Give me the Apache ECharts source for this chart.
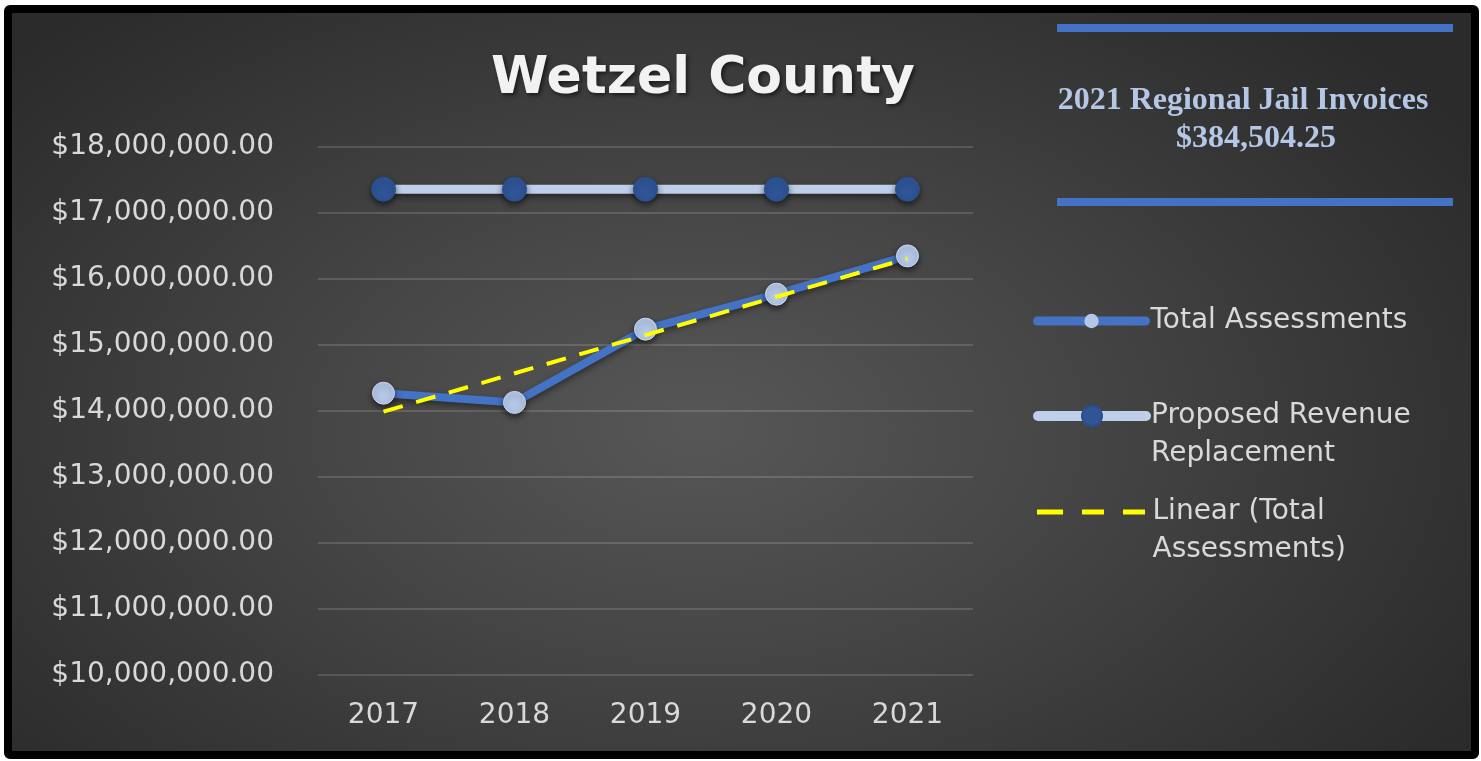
<!DOCTYPE html>
<html>
<head>
<meta charset="utf-8">
<script src="https://cdn.jsdelivr.net/npm/echarts@6/dist/echarts.min.js"></script>
<style>
  html, body { margin: 0; padding: 0; background: #ffffff; }
  #frame {
    position: absolute; left: 4px; top: 5px; width: 1475px; height: 754px;
    box-sizing: border-box; border: 8px solid #000; border-radius: 6px;
    background: radial-gradient(ellipse 62% 75% at 47% 56%, #575757 0%, #444444 45%, #2b2b2b 100%);
  }
  #chart { position: absolute; left: 0; top: 0; width: 1481px; height: 761px; }
</style>
</head>
<body>
<div id="frame"></div>
<div id="chart"></div>
<script>
// ---- data ----
const years = ['2017', '2018', '2019', '2020', '2021'];
const totalAssessments = [14270000, 14130000, 15240000, 15770000, 16350000];
const proposedRevenue = [17360000, 17360000, 17360000, 17360000, 17360000];
// linear trend line of Total Assessments: endpoints
const trendLine = [13990000, null, null, null, 16310000];
const yTicks = { min: 10000000, max: 18000000, step: 1000000 };
const boxLines = ['2021 Regional Jail Invoices', '$384,504.25'];

const labelColor = '#d9d9d9';
const font = 'DejaVu Sans';

const chart = echarts.init(document.getElementById('chart'), null, { renderer: 'canvas' });

const legendText = { color: labelColor, fontFamily: font, fontSize: 28, lineHeight: 38 };

chart.setOption({
  backgroundColor: 'transparent',
  animation: false,
  title: {
    text: 'Wetzel County',
    left: 698, top: 48, textAlign: 'center',
    textStyle: {
      color: '#f2f2f2', fontFamily: font, fontWeight: 'bold', fontSize: 52,
      textShadowColor: 'rgba(0,0,0,0.6)', textShadowBlur: 4, textShadowOffsetX: 2, textShadowOffsetY: 2
    }
  },
  legend: [
    {
      selectedMode: false, orient: 'vertical', left: 1033, top: 302, padding: 0,
      itemWidth: 108, itemHeight: 18,
      lineStyle: { width: 9, cap: 'round', shadowBlur: 0 },
      itemStyle: { shadowBlur: 0, borderWidth: 0 },
      textStyle: legendText,
      data: [{ name: 'Total Assessments' }]
    },
    {
      selectedMode: false, orient: 'vertical', left: 1033, top: 359, padding: 0,
      itemWidth: 108, itemHeight: 25,
      lineStyle: { width: 10, cap: 'round', shadowBlur: 0 },
      itemStyle: { shadowBlur: 0 },
      textStyle: legendText,
      formatter: () => '\nProposed Revenue\nReplacement',
      data: [{ name: 'Proposed Revenue Replacement' }]
    },
    {
      selectedMode: false, orient: 'vertical', left: 1037, top: 455, padding: 0,
      itemWidth: 113, itemHeight: 5,
      textStyle: legendText,
      formatter: () => '\nLinear (Total\nAssessments)',
      data: [{
        name: 'Linear (Total Assessments)',
        icon: 'path://M0,0h26v5h-26z M45,0h22v5h-22z M86,0h22v5h-22z',
        itemStyle: { color: '#ffff00' }
      }]
    }
  ],
  grid: { left: 318, right: 508, top: 147, bottom: 86, containLabel: false },
  xAxis: {
    type: 'category',
    data: years,
    boundaryGap: true,
    axisLine: { show: false },
    axisTick: { show: false },
    axisLabel: { color: labelColor, fontFamily: font, fontSize: 28, margin: 27 }
  },
  yAxis: {
    type: 'value',
    min: yTicks.min, max: yTicks.max, interval: yTicks.step,
    axisLine: { show: false },
    axisTick: { show: false },
    splitLine: { lineStyle: { color: 'rgba(255,255,255,0.14)', width: 2 } },
    axisLabel: {
      color: labelColor, fontFamily: font, fontSize: 28, margin: 44,
      formatter: v => '$' + v.toLocaleString('en-US', { minimumFractionDigits: 2, maximumFractionDigits: 2 })
    }
  },
  series: [
    {
      name: 'Total Assessments',
      type: 'line',
      data: totalAssessments,
      symbol: 'circle', symbolSize: 22,
      lineStyle: { color: '#4472c4', width: 8, shadowColor: 'rgba(0,0,0,0.45)', shadowBlur: 6, shadowOffsetY: 3 },
      itemStyle: { color: '#b4c7e7', borderColor: '#c9d6ee', borderWidth: 1, shadowColor: 'rgba(0,0,0,0.55)', shadowBlur: 6, shadowOffsetY: 3 },
      z: 3
    },
    {
      name: 'Proposed Revenue Replacement',
      type: 'line',
      data: proposedRevenue,
      symbol: 'circle', symbolSize: 24,
      lineStyle: { color: '#bfcfea', width: 9, shadowColor: 'rgba(0,0,0,0.45)', shadowBlur: 6, shadowOffsetY: 3 },
      itemStyle: { color: '#2f5597', borderColor: '#2a4f8f', borderWidth: 1, shadowColor: 'rgba(0,0,0,0.55)', shadowBlur: 6, shadowOffsetY: 3 },
      z: 3
    },
    {
      name: 'Linear (Total Assessments)',
      type: 'line',
      data: trendLine,
      connectNulls: true,
      symbol: 'none',
      lineStyle: { color: '#ffff00', width: 4, type: [20, 14] },
      itemStyle: { color: '#ffff00' },
      z: 4
    }
  ],
  graphic: [
    { type: 'rect', shape: { x: 1057, y: 24, width: 396, height: 8 }, style: { fill: '#4472c4' } },
    { type: 'rect', shape: { x: 1057, y: 198, width: 396, height: 8 }, style: { fill: '#4472c4' } },
    { type: 'text', x: 1243, y: 101, style: { text: boxLines[0], fill: '#b4c7e7', font: 'bold 32px "Liberation Serif"', align: 'center', verticalAlign: 'middle' } },
    { type: 'text', x: 1256, y: 139, style: { text: boxLines[1], fill: '#b4c7e7', font: 'bold 32px "Liberation Serif"', align: 'center', verticalAlign: 'middle' } }
  ]
});
</script>
</body>
</html>
